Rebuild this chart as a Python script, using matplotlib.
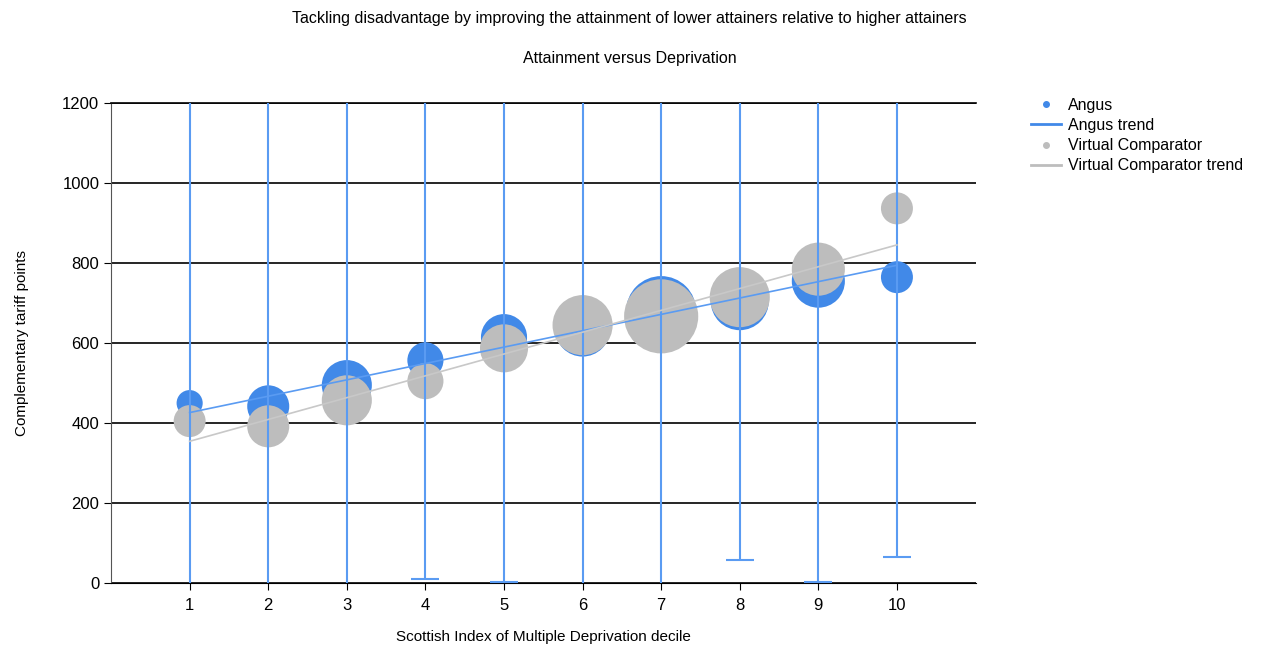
import numpy as np
import matplotlib
matplotlib.use('Agg')
import matplotlib.pyplot as plt
from matplotlib.lines import Line2D

plt.rcParams['font.family'] = ['Liberation Sans', 'DejaVu Sans']

# data
deciles = [1, 2, 3, 4, 5, 6, 7, 8, 9, 10]
angus = [450, 442, 495, 557, 615, 635, 680, 705, 755, 765]
angus_low = [-100, -100, -100, 10, 2, -100, -100, 57, 2, 65]
angus_high = [1400, 1400, 1400, 1400, 1400, 1400, 1400, 1400, 1400, 1400]
angus_n = [68, 176, 250, 130, 212, 300, 490, 336, 281, 102]
vc = [405, 392, 457, 505, 587, 645, 667, 715, 785, 937]
vc_n = [102, 176, 250, 130, 230, 360, 548, 360, 281, 102]

blue = '#4189E8'
bar_blue = '#5A9BF2'
grey = '#BDBDBD'

fig = plt.figure(figsize=(12.62, 6.45), dpi=100)
ax = fig.add_axes([0.088, 0.096, 0.685, 0.744])

x = np.array(deciles)
a = np.array(angus)
v = np.array(vc)

ax.scatter(x, a, s=np.array(angus_n) * 5.2, color=blue, edgecolors='none', zorder=3)
ax.scatter(x, v, s=np.array(vc_n) * 5.2, color=grey, edgecolors='none', zorder=4)

yerr = [a - np.array(angus_low), np.array(angus_high) - a]
ax.errorbar(x, a, yerr=yerr, fmt='none', ecolor=bar_blue, elinewidth=1.5,
            capsize=10, capthick=1.5, zorder=5)

# trend lines (weighted by cohort size)
pa = np.polyfit(x, a, 1, w=np.sqrt(angus_n))
pv = np.polyfit(x, v, 1, w=np.sqrt(vc_n))
ax.plot(x, np.polyval(pa, x), color=bar_blue, lw=1.2, zorder=6)
ax.plot(x, np.polyval(pv, x), color='#C8C8C8', lw=1.2, zorder=6)

ax.set_xlim(0, 11)
ax.set_ylim(0, 1200)
ax.set_xticks(deciles)
ax.set_yticks(range(0, 1201, 200))
ax.yaxis.grid(True, color='black', lw=1.2)
ax.set_axisbelow(True)
ax.tick_params(labelsize=12, length=5, color='black')
ax.tick_params(axis='x', pad=6)
ax.spines['right'].set_visible(False)
ax.spines['top'].set_color('black')
ax.spines['top'].set_linewidth(1.2)
ax.spines['left'].set_color('#555555')
ax.spines['bottom'].set_color('black')

ax.set_ylabel('Complementary tariff points', fontsize=11, labelpad=24)
ax.set_xlabel('Scottish Index of Multiple Deprivation decile', fontsize=11, labelpad=12)

fig.text(0.499, 0.972, 'Tackling disadvantage by improving the attainment of lower attainers relative to higher attainers',
         ha='center', va='center', fontsize=11.5)
fig.text(0.499, 0.91, 'Attainment versus Deprivation', ha='center', va='center', fontsize=11.5)

handles = [
    Line2D([], [], marker='o', color=blue, ls='none', markersize=4),
    Line2D([], [], color=blue, lw=2),
    Line2D([], [], marker='o', color=grey, ls='none', markersize=4),
    Line2D([], [], color=grey, lw=2),
]
labels = ['Angus', 'Angus trend', 'Virtual Comparator', 'Virtual Comparator trend']
fig.legend(handles, labels, loc='upper left', bbox_to_anchor=(0.8104, 0.861),
           frameon=False, fontsize=11.5, handlelength=1.9, labelspacing=0.33,
           handletextpad=0.45, borderpad=0)

fig.savefig('out.png', dpi=100)
